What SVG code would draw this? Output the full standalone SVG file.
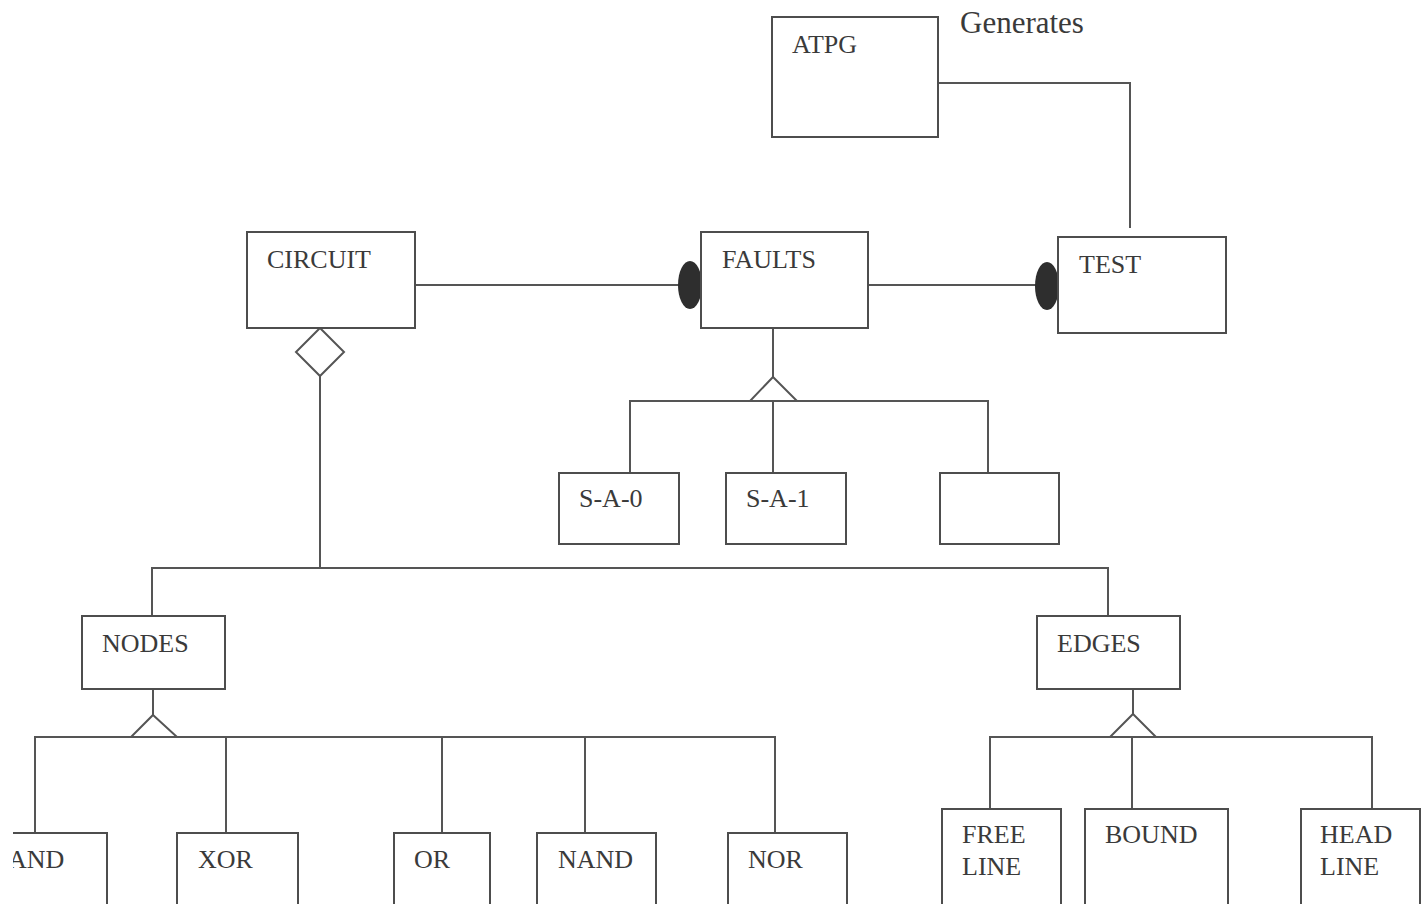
<svg xmlns="http://www.w3.org/2000/svg" width="1428" height="904" viewBox="0 0 1428 904">
  <defs>
    <style>
      .box { fill: #ffffff; stroke: #4d4d4d; stroke-width: 2; }
      .wire { fill: none; stroke: #555555; stroke-width: 2; }
      .tri { fill: #ffffff; stroke: #555555; stroke-width: 2; }
      .dot { fill: #2e2e2e; stroke: none; }
      .lbl { font-family: "Liberation Serif", "Times New Roman", serif; font-size: 26px; fill: #3a3a3a; }
      .note { font-family: "Liberation Serif", "Times New Roman", serif; font-size: 31px; fill: #3a3a3a; }
    </style>
    <clipPath id="leftEdge">
      <rect x="13" y="0" width="1415" height="904"/>
    </clipPath>
  </defs>

  <rect x="0" y="0" width="1428" height="904" fill="#ffffff"/>

  <!-- connectors -->
  <g id="connectors">
    <!-- ATPG generates TEST -->
    <polyline class="wire" points="938,83 1130,83 1130,228"/>
    <!-- CIRCUIT - FAULTS -->
    <line class="wire" x1="415" y1="285" x2="680" y2="285"/>
    <ellipse class="dot" cx="690" cy="285" rx="12" ry="24"/>
    <!-- FAULTS - TEST -->
    <line class="wire" x1="868" y1="285" x2="1036" y2="285"/>
    <ellipse class="dot" cx="1047" cy="286" rx="12" ry="24"/>

    <!-- CIRCUIT aggregation -->
    <polygon class="tri" points="320,328 344,352 320,376 296,352"/>
    <line class="wire" x1="320" y1="376" x2="320" y2="568"/>
    <polyline class="wire" points="152,616 152,568 1108,568 1108,616"/>

    <!-- FAULTS generalization -->
    <line class="wire" x1="773" y1="328" x2="773" y2="377"/>
    <polyline class="wire" points="630,472 630,401 988,401 988,472"/>
    <line class="wire" x1="773" y1="401" x2="773" y2="472"/>
    <polygon class="tri" points="773,377 797,401 750,401"/>

    <!-- NODES generalization -->
    <line class="wire" x1="153" y1="689" x2="153" y2="715"/>
    <polyline class="wire" points="35,833 35,737 775,737 775,833"/>
    <line class="wire" x1="226" y1="737" x2="226" y2="833"/>
    <line class="wire" x1="442" y1="737" x2="442" y2="833"/>
    <line class="wire" x1="585" y1="737" x2="585" y2="833"/>
    <polygon class="tri" points="153,715 177,737 131,737"/>

    <!-- EDGES generalization -->
    <line class="wire" x1="1133" y1="689" x2="1133" y2="714"/>
    <polyline class="wire" points="990,809 990,737 1372,737 1372,809"/>
    <line class="wire" x1="1132" y1="737" x2="1132" y2="809"/>
    <polygon class="tri" points="1133,714 1156,737 1110,737"/>
  </g>

  <text class="note" x="960" y="33">Generates</text>

  <g id="atpg">
    <rect class="box" x="772" y="17" width="166" height="120"/>
    <text class="lbl" x="792" y="53">ATPG</text>
  </g>

  <g id="circuit">
    <rect class="box" x="247" y="232" width="168" height="96"/>
    <text class="lbl" x="267" y="268">CIRCUIT</text>
  </g>

  <g id="faults">
    <rect class="box" x="701" y="232" width="167" height="96"/>
    <text class="lbl" x="722" y="268">FAULTS</text>
  </g>

  <g id="test">
    <rect class="box" x="1058" y="237" width="168" height="96"/>
    <text class="lbl" x="1079" y="273">TEST</text>
  </g>

  <g id="sa0">
    <rect class="box" x="559" y="473" width="120" height="71"/>
    <text class="lbl" x="579" y="507">S-A-0</text>
  </g>

  <g id="sa1">
    <rect class="box" x="726" y="473" width="120" height="71"/>
    <text class="lbl" x="746" y="507">S-A-1</text>
  </g>

  <g id="fault-other">
    <rect class="box" x="940" y="473" width="119" height="71"/>
  </g>

  <g id="nodes">
    <rect class="box" x="82" y="616" width="143" height="73"/>
    <text class="lbl" x="102" y="652">NODES</text>
  </g>

  <g id="edges">
    <rect class="box" x="1037" y="616" width="143" height="73"/>
    <text class="lbl" x="1057" y="652">EDGES</text>
  </g>

  <g id="and" clip-path="url(#leftEdge)">
    <rect class="box" x="-20" y="833" width="127" height="90"/>
    <text class="lbl" x="8" y="868">AND</text>
  </g>

  <g id="xor">
    <rect class="box" x="177" y="833" width="121" height="90"/>
    <text class="lbl" x="198" y="868">XOR</text>
  </g>

  <g id="or">
    <rect class="box" x="394" y="833" width="96" height="90"/>
    <text class="lbl" x="414" y="868">OR</text>
  </g>

  <g id="nand">
    <rect class="box" x="537" y="833" width="119" height="90"/>
    <text class="lbl" x="558" y="868">NAND</text>
  </g>

  <g id="nor">
    <rect class="box" x="728" y="833" width="119" height="90"/>
    <text class="lbl" x="748" y="868">NOR</text>
  </g>

  <g id="freeline">
    <rect class="box" x="942" y="809" width="119" height="110"/>
    <text class="lbl" x="962" y="843">FREE</text>
    <text class="lbl" x="962" y="875">LINE</text>
  </g>

  <g id="bound">
    <rect class="box" x="1085" y="809" width="143" height="110"/>
    <text class="lbl" x="1105" y="843">BOUND</text>
  </g>

  <g id="headline">
    <rect class="box" x="1301" y="809" width="119" height="110"/>
    <text class="lbl" x="1320" y="843">HEAD</text>
    <text class="lbl" x="1320" y="875">LINE</text>
  </g>
</svg>
